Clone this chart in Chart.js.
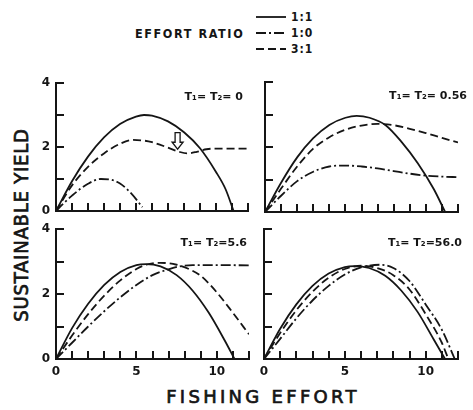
<!DOCTYPE html>
<html>
<head>
<meta charset="utf-8">
<title>Sustainable yield vs fishing effort</title>
<script src="https://cdn.jsdelivr.net/npm/chart.js@4.4.1/dist/chart.umd.min.js"></script>
<style>
  html, body { margin: 0; padding: 0; background: #fff; }
  body { width: 473px; height: 410px; position: relative; overflow: hidden; color: #151515;
         font-family: "DejaVu Sans", sans-serif; }
  canvas { position: absolute; }
  .ytitle { position: absolute; left: 21px; top: 225px; transform: translate(-50%, -50%) rotate(-90deg);
            white-space: nowrap; font-family: "DejaVu Sans Condensed", "DejaVu Sans", sans-serif;
            font-size: 20px; letter-spacing: 0.8px; -webkit-text-stroke: 0.7px #151515; }
  .xtitle { position: absolute; left: 263px; top: 396px; transform: translate(-50%, -50%);
            white-space: nowrap; font-family: "DejaVu Sans", sans-serif; font-size: 18px;
            letter-spacing: 3.3px; -webkit-text-stroke: 0.7px #151515; }
  .legend-head { position: absolute; left: 135px; top: 33px; transform: translateY(-50%);
                 font-family: "DejaVu Sans Condensed", "DejaVu Sans", sans-serif; font-weight: bold;
                 font-size: 12.5px; letter-spacing: 1.6px; white-space: nowrap; }
  .legend-row { position: absolute; left: 256px; height: 14px; transform: translateY(-50%);
                display: flex; align-items: center; white-space: nowrap;
                font-family: "DejaVu Sans Condensed", "DejaVu Sans", sans-serif; font-weight: bold; font-size: 12px; }
  .legend-row svg { margin-right: 5px; }
  .legend-row span { letter-spacing: 1px; }
</style>
</head>
<body>

<div class="ytitle">SUSTAINABLE YIELD</div>
<div class="xtitle">FISHING EFFORT</div>
<div class="legend-head">EFFORT RATIO</div>
<div id="legend"></div>

<canvas id="pTL"></canvas>
<canvas id="pTR"></canvas>
<canvas id="pBL"></canvas>
<canvas id="pBR"></canvas>

<script>
// ---- data: [fishing effort, sustainable yield] ----
const ratioLabels = ['1:1', '1:0', '3:1'];
const xTickLabels = [0, 5, 10];
const yTickLabels = [0, 2, 4];
const xMinorTicks = [1, 2, 3, 4, 5, 6, 7, 8, 9, 10, 11, 12];
const yMinorTicks = [1, 2, 3, 4];
const panelTitles = ['T\u2081= T\u2082= 0', 'T\u2081= T\u2082= 0.56', 'T\u2081= T\u2082=5.6', 'T\u2081= T\u2082=56.0'];

// T1 = T2 = 0
const t0Ratio11 = [[0,0],[1,0.93],[2,1.7],[3,2.3],[4,2.72],[5,2.95],[5.5,3.0],[6,2.98],[7,2.8],[8,2.46],[9,1.96],[10,1.22],[10.6,0.68],[11.1,0]];
const t0Ratio10 = [[0,0],[0.5,0.25],[1,0.48],[2,0.85],[2.8,1.0],[3.4,0.98],[4,0.86],[4.7,0.55],[5.4,0.12]];
const t0Ratio31 = [[0,0],[1,0.8],[2,1.38],[3,1.8],[4,2.1],[4.8,2.22],[5.5,2.2],[6,2.15],[7,1.98],[7.7,1.85],[8.2,1.8],[8.8,1.85],[9.4,1.93],[10,1.95],[12,1.95]];

// T1 = T2 = 0.56
const t056Ratio11 = [[0,0],[1,0.9],[2,1.68],[3,2.27],[4,2.68],[5,2.9],[5.7,2.96],[6.5,2.9],[7.5,2.67],[8.5,2.15],[9.5,1.5],[10.5,0.7],[11.2,0]];
const t056Ratio10 = [[0,0],[1,0.5],[2,0.95],[3,1.24],[4,1.4],[5,1.43],[6,1.4],[7,1.34],[8,1.26],[9,1.18],[10,1.12],[11,1.09],[12,1.07]];
const t056Ratio31 = [[0,0],[1,0.72],[2,1.4],[3,1.95],[4,2.3],[5,2.53],[6,2.66],[7,2.71],[8,2.67],[9,2.56],[10,2.43],[11,2.28],[12,2.14]];

// T1 = T2 = 5.6
const t56Ratio11 = [[0,0],[1,0.95],[2,1.7],[3,2.28],[4,2.68],[5,2.89],[5.6,2.92],[6.5,2.85],[7.5,2.58],[8.5,2.1],[9.5,1.42],[10.5,0.56],[11.1,0]];
const t56Ratio10 = [[0,0],[1,0.5],[2,1.0],[3,1.47],[4,1.9],[5,2.28],[6,2.58],[7,2.76],[7.7,2.85],[8.5,2.89],[10,2.89],[12,2.88]];
const t56Ratio31 = [[0,0],[1,0.72],[2,1.38],[3,1.95],[4,2.42],[5,2.77],[5.6,2.9],[6.5,2.96],[7.5,2.9],[8.3,2.76],[9,2.56],[10,2.05],[11,1.42],[12,0.76]];

// T1 = T2 = 56.0
const t560Ratio11 = [[0,0],[1,0.93],[2,1.68],[3,2.25],[4,2.63],[5,2.83],[5.6,2.86],[6.5,2.8],[7.5,2.56],[8.5,2.1],[9.5,1.45],[10.5,0.6],[11.2,0]];
const t560Ratio10 = [[0,0],[1,0.62],[2,1.25],[3,1.8],[4,2.25],[5,2.6],[6,2.82],[7.2,2.9],[8,2.8],[9,2.4],[10,1.68],[11,0.9],[11.8,0]];
const t560Ratio31 = [[0,0],[1,0.8],[2,1.5],[3,2.07],[4,2.5],[5,2.77],[6.1,2.87],[7,2.8],[8,2.58],[9,2.14],[10,1.38],[11,0.5],[11.4,0]];

// ---- styling ----
const INK = '#151515';
const lineStyles = {
  '1:1': [],
  '1:0': [10, 3, 2, 3],
  '3:1': [8, 4]
};
const FONT = '"DejaVu Sans", sans-serif';
const TICK_LEN = 8;

// legend samples
(function buildLegend() {
  const host = document.getElementById('legend');
  const rowsY = [17, 33, 49];
  ratioLabels.forEach((lab, i) => {
    const row = document.createElement('div');
    row.className = 'legend-row';
    row.style.top = rowsY[i] + 'px';
    const dash = lineStyles[lab].join(' ');
    row.innerHTML = '<svg width="30" height="6"><line x1="0" y1="3" x2="30" y2="3" stroke="' + INK +
      '" stroke-width="1.8"' + (dash ? ' stroke-dasharray="' + dash + '"' : '') + '/></svg><span>' + lab + '</span>';
    host.appendChild(row);
  });
})();

// axes, inward tick marks, panel caption and the optional arrow marker
const panelDecor = {
  id: 'panelDecor',
  afterDatasetsDraw(chart, args, opts) {
    const { ctx, chartArea: a } = chart;
    const xs = chart.scales.x, ys = chart.scales.y;
    const x0 = Math.round(xs.getPixelForValue(0)), y0 = Math.round(ys.getPixelForValue(0));
    const xEnd = Math.round(xs.getPixelForValue(12)), yTop = Math.round(ys.getPixelForValue(4));
    ctx.save();
    ctx.setLineDash([]);
    ctx.globalAlpha = 1;
    ctx.fillStyle = INK;
    // axis lines
    ctx.fillRect(x0 - 1, yTop - 1, 2, y0 - yTop + 2);
    ctx.fillRect(x0 - 1, y0 - 1, xEnd - x0 + 2, 2);
    // inward tick marks: upward on the effort axis, rightward on the yield axis
    for (let i = 0; i < xMinorTicks.length; i++) {
      const px = Math.round(xs.getPixelForValue(xMinorTicks[i]));
      ctx.fillRect(px - 1, y0 - TICK_LEN, 2, TICK_LEN);
    }
    for (let i = 0; i < yMinorTicks.length; i++) {
      const py = Math.round(ys.getPixelForValue(yMinorTicks[i]));
      ctx.fillRect(x0, py - 1, TICK_LEN, 2);
    }

    ctx.font = 'bold 11px ' + FONT;
    ctx.textAlign = 'right';
    ctx.textBaseline = 'alphabetic';
    ctx.fillText(opts.caption, a.right + opts.captionShift, a.top + 17);

    if (opts.arrow) {
      const cx = xs.getPixelForValue(opts.arrow.effort);
      const top = ys.getPixelForValue(opts.arrow.from);
      const tip = ys.getPixelForValue(opts.arrow.to);
      const neck = tip - 7;
      ctx.strokeStyle = INK;
      ctx.lineWidth = 1.3;
      ctx.beginPath();
      ctx.moveTo(cx - 2.5, top);
      ctx.lineTo(cx + 2.5, top);
      ctx.lineTo(cx + 2.5, neck);
      ctx.lineTo(cx + 5.5, neck);
      ctx.lineTo(cx, tip);
      ctx.lineTo(cx - 5.5, neck);
      ctx.lineTo(cx - 2.5, neck);
      ctx.closePath();
      ctx.fillStyle = '#fff';
      ctx.fill();
      ctx.stroke();
    }
    ctx.restore();
  }
};

function makePanel(id, area, series, opts) {
  const padL = 40, padT = 20, padR = 16, padB = 26;
  const yAxisW = 30, xAxisH = 22;
  const cv = document.getElementById(id);
  const w = (area.right - area.left) + padL + padR;
  const h = (area.bottom - area.top) + padT + padB;
  cv.width = w; cv.height = h;
  cv.style.width = w + 'px'; cv.style.height = h + 'px';
  cv.style.left = (area.left - padL) + 'px';
  cv.style.top = (area.top - padT) + 'px';

  const datasets = ratioLabels.map(lab => ({
    label: lab,
    data: series[lab].map(p => ({ x: p[0], y: p[1] })),
    borderColor: INK,
    borderWidth: 1.8,
    borderDash: lineStyles[lab],
    pointRadius: 0,
    fill: false,
    cubicInterpolationMode: 'monotone'
  }));

  const tickFont = { family: FONT, size: 12, weight: 'bold' };
  new Chart(cv, {
    type: 'line',
    data: { datasets },
    options: {
      responsive: false,
      animation: false,
      events: [],
      devicePixelRatio: 1,
      layout: { padding: { left: padL - yAxisW, top: padT, right: padR, bottom: padB - xAxisH } },
      plugins: {
        legend: { display: false },
        tooltip: { enabled: false },
        panelDecor: opts
      },
      scales: {
        x: {
          type: 'linear', min: 0, max: 12,
          border: { display: false },
          grid: { display: false, drawTicks: false },
          afterBuildTicks: s => { s.ticks = xTickLabels.map(v => ({ value: v })); },
          afterFit: s => { s.height = xAxisH; },
          ticks: { display: opts.showX, color: INK, font: tickFont, padding: 6, maxRotation: 0 }
        },
        y: {
          type: 'linear', min: 0, max: 4,
          border: { display: false },
          grid: { display: false, drawTicks: false },
          afterBuildTicks: s => { s.ticks = yTickLabels.map(v => ({ value: v })); },
          afterFit: s => { s.width = yAxisW; },
          ticks: { display: opts.showY, color: INK, font: tickFont, padding: 6 }
        }
      }
    },
    plugins: [panelDecor]
  });
}

makePanel('pTL', { left: 56, top: 83, right: 248, bottom: 211 },
  { '1:1': t0Ratio11, '1:0': t0Ratio10, '3:1': t0Ratio31 },
  { caption: panelTitles[0], captionShift: -5, showX: false, showY: true,
    arrow: { effort: 7.6, from: 2.45, to: 1.93 } });

makePanel('pTR', { left: 265, top: 82, right: 458, bottom: 212 },
  { '1:1': t056Ratio11, '1:0': t056Ratio10, '3:1': t056Ratio31 },
  { caption: panelTitles[1], captionShift: 9, showX: false, showY: false });

makePanel('pBL', { left: 56, top: 229, right: 249, bottom: 359 },
  { '1:1': t56Ratio11, '1:0': t56Ratio10, '3:1': t56Ratio31 },
  { caption: panelTitles[2], captionShift: -2, showX: true, showY: true });

makePanel('pBR', { left: 264, top: 229, right: 458, bottom: 359 },
  { '1:1': t560Ratio11, '1:0': t560Ratio10, '3:1': t560Ratio31 },
  { caption: panelTitles[3], captionShift: 4, showX: true, showY: false });
</script>
</body>
</html>
